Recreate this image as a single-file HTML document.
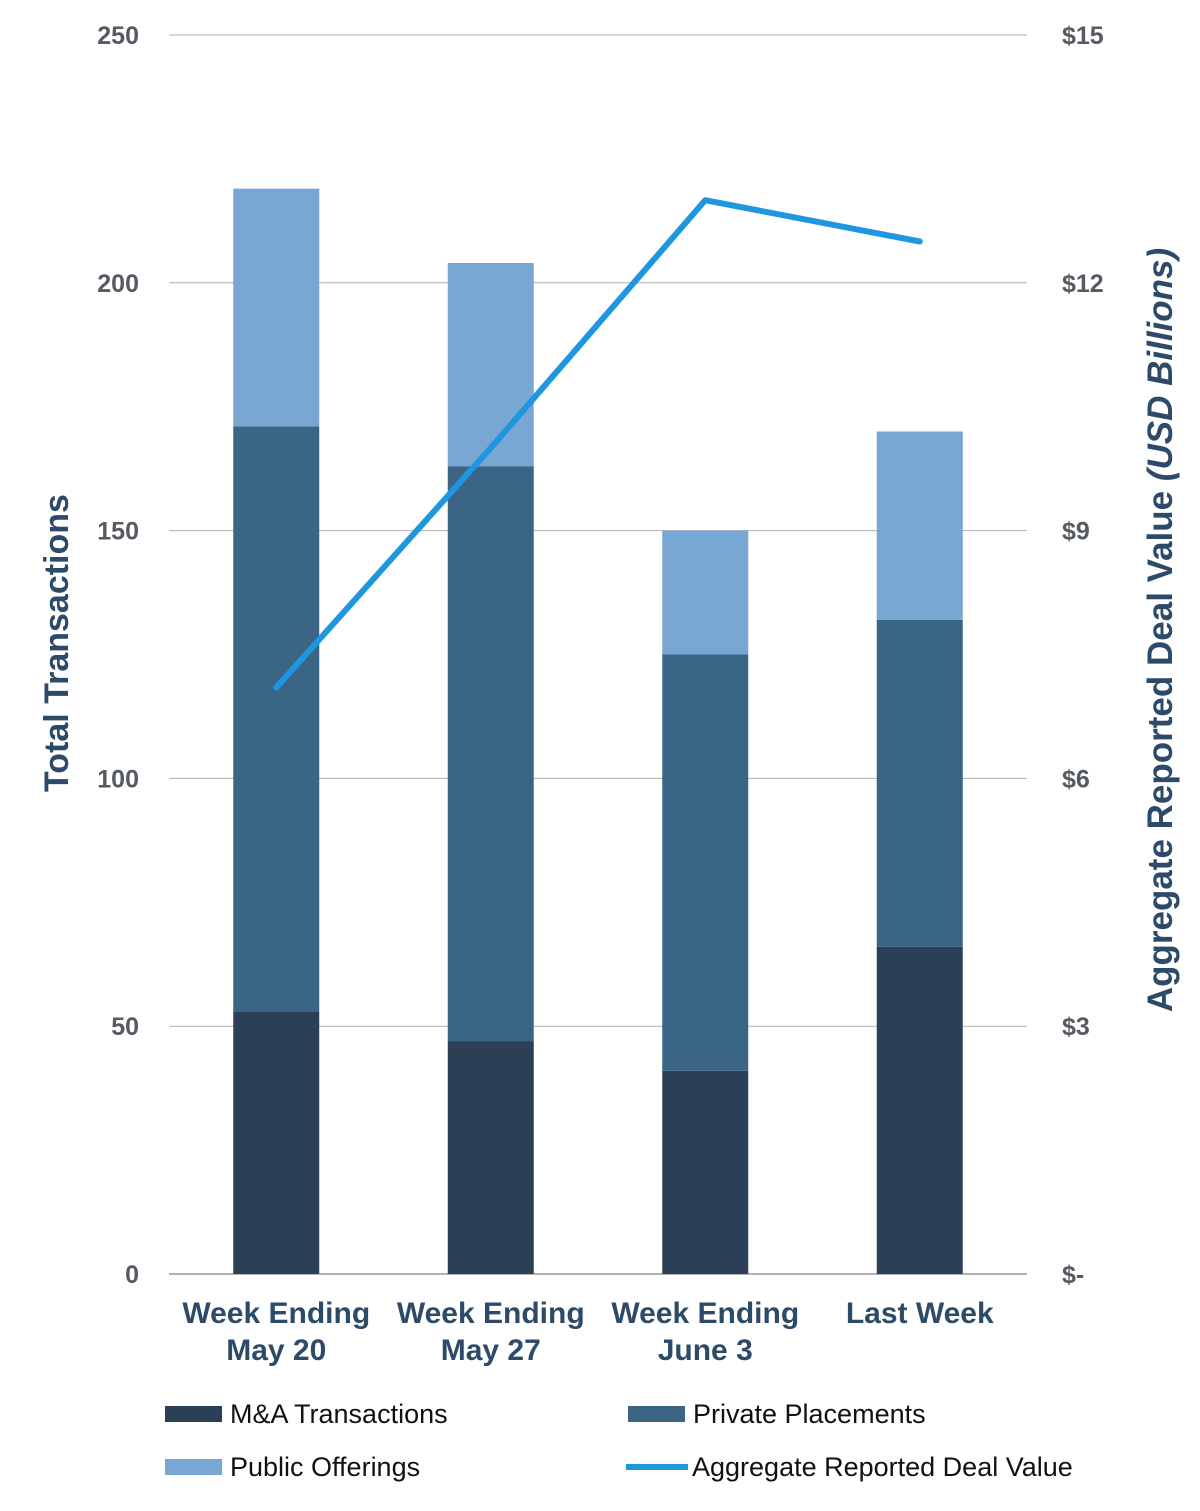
<!DOCTYPE html>
<html><head><meta charset="utf-8"><style>
body{margin:0;background:#fff;}
svg{display:block;font-family:"Liberation Sans",sans-serif;}
</style></head><body>
<svg id="chart" width="1200" height="1511" viewBox="0 0 1200 1511"></svg>
<script>
const categories=[["Week Ending","May 20"],["Week Ending","May 27"],["Week Ending","June 3"],["Last Week"]];
const maValues=[53,47,41,66];
const ppValues=[118,116,84,66];
const poValues=[48,41,25,38];
const dealValues=[7.1,10.0,13.0,12.5];
const leftTicks=[0,50,100,150,200,250];
const rightTickLabels=["$-","$3","$6","$9","$12","$15"];
const rightTickValues=[0,3,6,9,12,15];

const svg=document.getElementById('chart');
const NS='http://www.w3.org/2000/svg';
const X0=169,X1=1027,Y0=1274,Y1=35;
const yL=v=>Y0-(v/250)*(Y0-Y1);
const yR=v=>Y0-(v/15)*(Y0-Y1);
const band=(X1-X0)/categories.length;
const xC=i=>X0+band*(i+0.5);
const BW=86;
function mk(tag,attrs,parent){const e=document.createElementNS(NS,tag);for(const k in attrs)e.setAttribute(k,attrs[k]);(parent||svg).appendChild(e);return e;}

leftTicks.forEach((t,i)=>{
  const g=mk('line',{x1:X0,x2:X1,y1:yL(t),y2:yL(t),stroke:i===0?'#999':'#b0b0b0','stroke-width':i===0?1.5:1});
  
  
  const tx=mk('text',{x:139,y:yL(t)+9,'text-anchor':'end','font-size':25,'font-weight':'bold',fill:'#555a63'});
  tx.textContent=t;
  
  
});
rightTickValues.forEach((t,i)=>{
  const tx=mk('text',{x:1062,y:yR(t)+9,'font-size':25,'font-weight':'bold',fill:'#555a63'});
  tx.textContent=rightTickLabels[i];
  
  
});
const colors=['#2b4056','#3b6585','#77a7d2'];
const names=['ma','pp','po'];
categories.forEach((c,i)=>{
  let base=0;
  [maValues[i],ppValues[i],poValues[i]].forEach((v,s)=>{
    const r=mk('rect',{x:xC(i)-BW/2,y:yL(base+v),width:BW,height:yL(base)-yL(base+v),fill:colors[s]});
    
    
    base+=v;
  });
  c.forEach((ln,j)=>{
    const t=mk('text',{x:xC(i),y:1323+j*37,'text-anchor':'middle','font-size':30,'font-weight':'bold',fill:'#2d4a68'});
    t.textContent=ln;
    
    
  });
});
const pl=mk('polyline',{points:dealValues.map((v,i)=>xC(i)+','+yR(v)).join(' '),fill:'none',stroke:'#1e96e0','stroke-width':6,'stroke-linejoin':'round','stroke-linecap':'round'});



const lt=mk('text',{x:0,y:0,'font-size':34,'font-weight':'bold',fill:'#2d4a68','text-anchor':'middle',transform:'translate(68,643) rotate(-90)'});
lt.textContent='Total Transactions';


const rt=mk('text',{x:0,y:0,'font-size':35,'font-weight':'bold',fill:'#2d4a68','text-anchor':'middle',transform:'translate(1172,630) rotate(-90)'});
rt.innerHTML='Aggregate Reported Deal Value  <tspan font-style="italic">(USD Billions)</tspan>';



const leg=[[165,1406,colors[0],'M&A Transactions','legend-ma'],[628,1406,colors[1],'Private Placements','legend-pp'],[165,1459,colors[2],'Public Offerings','legend-po']];
leg.forEach(l=>{
  const r=mk('rect',{x:l[0],y:l[1],width:57,height:16,fill:l[2]});
  
  
  const t=mk('text',{x:l[0]+65,y:l[1]+17,'font-size':27,fill:'#111'});
  t.textContent=l[3];
  
  
});
const ll=mk('line',{x1:626,x2:688,y1:1467,y2:1467,stroke:'#1e96e0','stroke-width':6});


const lt2=mk('text',{x:692,y:1476,'font-size':27,fill:'#111'});
lt2.textContent='Aggregate Reported Deal Value';


</script>
</body></html>
